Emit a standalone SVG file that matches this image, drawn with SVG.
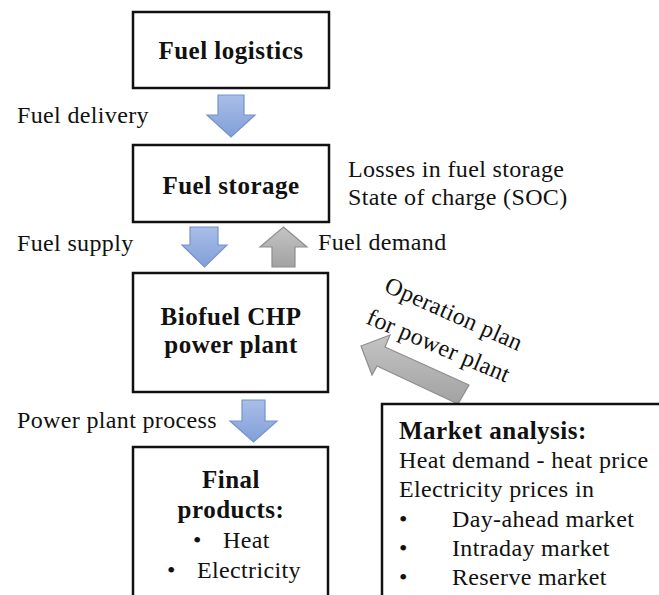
<svg xmlns="http://www.w3.org/2000/svg" width="659" height="595" viewBox="0 0 659 595">
<defs>
<linearGradient id="gBlue" x1="0" y1="0" x2="0" y2="1">
<stop offset="0" stop-color="#a9bee8"/>
<stop offset="1" stop-color="#819fd8"/>
</linearGradient>
<linearGradient id="gGray" x1="0" y1="0" x2="0" y2="1">
<stop offset="0" stop-color="#c4c4c4"/>
<stop offset="1" stop-color="#a2a2a2"/>
</linearGradient>
<style>
.box{fill:#fff;stroke:#111;stroke-width:2.5}
text{font-family:'Liberation Serif','Times New Roman','DejaVu Serif',serif;font-size:24px;fill:#111;letter-spacing:0.35px}
.b{font-weight:bold;font-size:25px;letter-spacing:0.5px}
.c{text-anchor:middle}
.ab{fill:url(#gBlue);stroke:#7592cc;stroke-width:1.2}
.ag{fill:url(#gGray);stroke:#8e8e8e;stroke-width:1.2}
</style>
</defs>
<rect width="659" height="595" fill="#fff"/>
<g id="connectors">
<polygon class="ab" points="218,95 244,95 244,115 255,115 231,137 207,115 218,115"/>
<polygon class="ab" points="190,227 218,227 218,245 227,245 204.5,267 182,245 190,245"/>
<polygon class="ag" points="272,267 295,267 295,247 307,247 283.5,227 260,247 272,247"/>
<polygon class="ab" points="242,400 265,400 265,421 277,421 253.5,442 230,421 242,421"/>
<polygon class="ag" points="361,346 390,335 385,347 469,385 458,404 377,366 372,375"/>
</g>
<g id="fuel-logistics">
<rect class="box" x="133" y="12" width="196" height="76"/>
<text class="b c" x="231" y="59">Fuel logistics</text>
</g>
<g id="fuel-storage">
<rect class="box" x="133" y="145" width="196" height="77"/>
<text class="b c" x="231" y="194">Fuel storage</text>
</g>
<g id="chp-plant">
<rect class="box" x="133" y="273" width="195" height="119"/>
<text class="b c" x="231" y="325">Biofuel CHP</text>
<text class="b c" x="231" y="353">power plant</text>
</g>
<g id="final-products">
<rect class="box" x="133" y="447" width="195" height="160"/>
<text class="b c" x="231" y="488">Final</text>
<text class="b c" x="231" y="518">products:</text>
<text x="193" y="548">•</text>
<text x="223" y="548">Heat</text>
<text x="167" y="578">•</text>
<text x="197" y="578">Electricity</text>
</g>
<g id="market-analysis">
<rect class="box" x="382" y="404" width="290" height="200"/>
<text class="b" x="399" y="439">Market analysis:</text>
<text x="399" y="468">Heat demand - heat price</text>
<text x="399" y="497">Electricity prices in</text>
<text x="399" y="527">•</text>
<text x="452" y="527">Day-ahead market</text>
<text x="399" y="556">•</text>
<text x="452" y="556">Intraday market</text>
<text x="399" y="585">•</text>
<text x="452" y="585">Reserve market</text>
</g>
<g id="labels">
<text x="17" y="123">Fuel delivery</text>
<text x="348" y="177">Losses in fuel storage</text>
<text x="348" y="205">State of charge (SOC)</text>
<text x="17" y="251">Fuel supply</text>
<text x="318" y="250">Fuel demand</text>
<text x="17" y="428">Power plant process</text>
<text transform="translate(383,291) rotate(24)">Operation plan</text>
<text transform="translate(365,323) rotate(23)">for power plant</text>
</g>
</svg>
